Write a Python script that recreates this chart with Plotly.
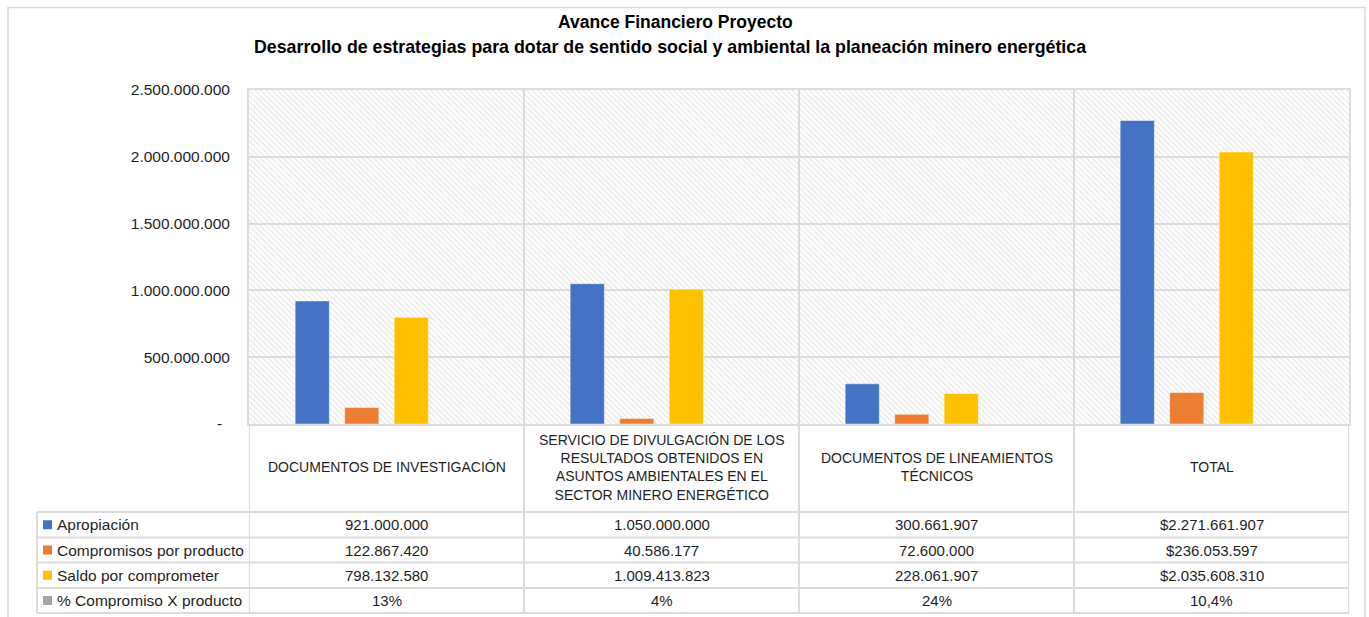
import plotly.graph_objects as go

# ---------------- data ----------------
categories = ["DOCUMENTOS DE INVESTIGACIÓN",
              "SERVICIO DE DIVULGACIÓN DE LOS RESULTADOS OBTENIDOS EN ASUNTOS AMBIENTALES EN EL SECTOR MINERO ENERGÉTICO",
              "DOCUMENTOS DE LINEAMIENTOS TÉCNICOS",
              "TOTAL"]
category_labels = ["DOCUMENTOS DE INVESTIGACIÓN",
                   "SERVICIO DE DIVULGACIÓN DE LOS<br>RESULTADOS OBTENIDOS EN<br>ASUNTOS AMBIENTALES EN EL<br>SECTOR MINERO ENERGÉTICO",
                   "DOCUMENTOS DE LINEAMIENTOS<br>TÉCNICOS",
                   "TOTAL"]
apropiacion = [921000000, 1050000000, 300661907, 2271661907]
compromisos = [122867420, 40586177, 72600000, 236053597]
saldo = [798132580, 1009413823, 228061907, 2035608310]
pct_compromiso = [13, 4, 24, 10.4]

series_names = ["Apropiación", "Compromisos por producto", "Saldo por comprometer", "% Compromiso X producto"]
series_colors = ["#4472C4", "#ED7D31", "#FFC000", "#A5A5A5"]

y_ticks = [0, 500000000, 1000000000, 1500000000, 2000000000, 2500000000]
y_max = 2500000000

title_line1 = "Avance Financiero Proyecto"
title_line2 = "Desarrollo de estrategias para dotar de sentido social y ambiental la planeación minero energética"

# ---------------- helpers ----------------
FONT = "Liberation Sans, Arial, sans-serif"
TXT = "#1f1f1f"
GRID = "#dcdcdc"
W, H = 1369, 617
PL, PR, PT, PB = 249, 1349, 90, 424


def xp(px):
    return (px - PL) / (PR - PL)


def yp(py):
    return (PB - py) / (PB - PT)


def fmt_num(v):
    return f"{v:,.0f}".replace(",", ".")


def fmt_pct(v):
    s = f"{v:g}".replace(".", ",")
    return s + "%"


def fmt_row(vals):
    out = [fmt_num(v) for v in vals]
    out[-1] = "$" + out[-1]
    return out


# ---------------- figure ----------------
fig = go.Figure()

# hatched plot background
fig.add_trace(go.Bar(
    x=categories, y=[y_max] * len(categories), width=1, offset=-0.5,
    marker=dict(color="rgba(0,0,0,0)", line=dict(width=0),
                pattern=dict(shape="\\", size=4, solidity=0.35, fgcolor="#d2d2d2",
                             fillmode="overlay")),
    hoverinfo="skip", showlegend=False))

values = [apropiacion, compromisos, saldo, [p / 100 for p in pct_compromiso]]
for name, vals, col in zip(series_names, values, series_colors):
    fig.add_trace(go.Bar(
        x=categories, y=vals, name=name,
        marker=dict(color=col, line=dict(color="rgba(255,255,255,0.45)", width=1)),
        showlegend=False))

fig.update_layout(
    width=W, height=H,
    margin=dict(l=PL, r=W - PR, t=PT, b=H - PB),
    paper_bgcolor="white", plot_bgcolor="white",
    barmode="group", bargap=0.28, bargroupgap=0.31,
    separators=",.",
    font=dict(family=FONT, color=TXT),
)

fig.update_xaxes(
    type="category", showticklabels=False, tickson="boundaries", ticks="",
    showgrid=True, gridcolor=GRID, gridwidth=2,
    showline=True, linecolor=GRID, linewidth=2, mirror=True,
    range=[-0.5, len(categories) - 0.5])

tick_text = ["-\u2002" if v == 0 else fmt_num(v) for v in y_ticks]
fig.update_yaxes(
    range=[0, y_max], tickvals=y_ticks, ticktext=tick_text,
    showgrid=True, gridcolor=GRID, gridwidth=2, zeroline=False,
    showline=True, linecolor=GRID, linewidth=2, mirror=True,
    ticks="", ticklabelstandoff=14,
    tickfont=dict(family=FONT, size=15.5, color=TXT))

shapes = []
line = dict(color=GRID, width=2)
# outer chart border
shapes.append(dict(type="rect", xref="paper", yref="paper",
                   x0=xp(8), x1=xp(1365), y0=yp(7.5), y1=yp(650),
                   line=dict(color="#d9d9d9", width=1.5), layer="below"))
# table horizontal lines
row_lines = [512, 537.5, 562.5, 588, 613]
for ry in row_lines:
    shapes.append(dict(type="line", xref="paper", yref="paper",
                       x0=xp(37), x1=xp(PR), y0=yp(ry), y1=yp(ry), line=line))
# table vertical lines
shapes.append(dict(type="line", xref="paper", yref="paper",
                   x0=xp(37), x1=xp(37), y0=yp(512), y1=yp(613), line=line))
for i in range(len(categories) + 1):
    shapes.append(dict(type="line", xref="x", yref="paper",
                       x0=i - 0.5, x1=i - 0.5, y0=yp(424), y1=yp(613), line=line))

annotations = []
# titles
annotations.append(dict(text="<b>" + title_line1 + "</b>", xref="paper", yref="paper",
                        x=xp(675), y=yp(22), xanchor="center", yanchor="middle", showarrow=False,
                        font=dict(family=FONT, size=17.5, color="#000")))
annotations.append(dict(text="<b>" + title_line2 + "</b>", xref="paper", yref="paper",
                        x=xp(670), y=yp(47), xanchor="center", yanchor="middle", showarrow=False,
                        font=dict(family=FONT, size=17.8, color="#000")))
# header row (category names)
for cat, lab in zip(categories, category_labels):
    annotations.append(dict(text=lab, xref="x", yref="paper", x=cat, y=yp(467),
                            xanchor="center", yanchor="middle", showarrow=False, align="center",
                            font=dict(family=FONT, size=14, color=TXT)))

row_texts = [fmt_row(apropiacion), fmt_row(compromisos), fmt_row(saldo),
             [fmt_pct(p) for p in pct_compromiso]]
row_centers = [(row_lines[k] + row_lines[k + 1]) / 2 for k in range(4)]
for name, col, texts, yc in zip(series_names, series_colors, row_texts, row_centers):
    shapes.append(dict(type="rect", xref="paper", yref="paper",
                       x0=xp(43), x1=xp(52), y0=yp(yc - 4.5), y1=yp(yc + 4.5),
                       fillcolor=col, line=dict(width=0)))
    annotations.append(dict(text=name, xref="paper", yref="paper", x=xp(55), y=yp(yc),
                            xanchor="left", yanchor="middle", showarrow=False,
                            font=dict(family=FONT, size=15.5, color=TXT)))
    for cat, t in zip(categories, texts):
        annotations.append(dict(text=t, xref="x", yref="paper", x=cat, y=yp(yc),
                                xanchor="center", yanchor="middle", showarrow=False,
                                font=dict(family=FONT, size=15, color=TXT)))

fig.update_layout(shapes=shapes, annotations=annotations)

fig.write_html("out.html",
               config={"displayModeBar": False},
               post_script="document.body.style.margin='0';document.body.style.padding='0';"
                           "document.body.style.overflow='hidden';")
